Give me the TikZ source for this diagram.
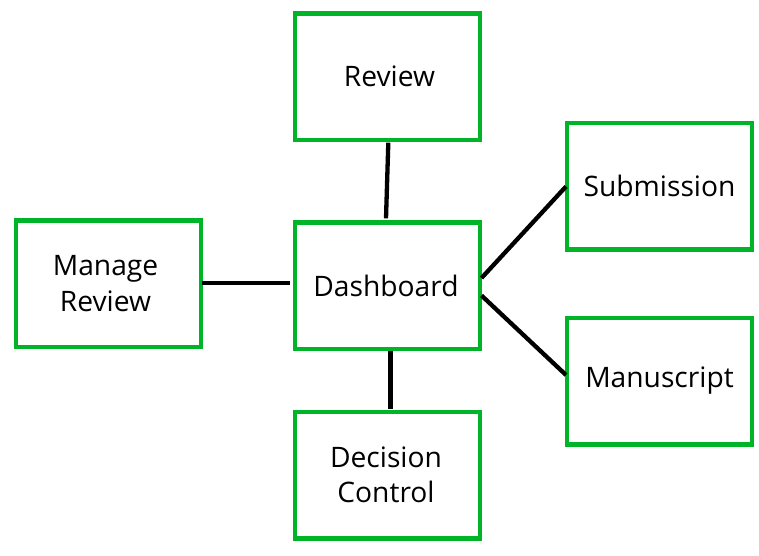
\documentclass[tikz,border=0pt]{standalone}
\usepackage{fontspec}
\setmainfont{Open Sans}
\definecolor{boxgreen}{RGB}{0,180,40}
\tikzset{
  box/.style={draw=boxgreen, line width=4.5pt, fill=white, minimum width=185pt, minimum height=126.5pt, inner sep=0pt, align=center, font=\fontsize{28.2}{35.5}\selectfont},
  link/.style={line width=4.3pt, black}
}
\begin{document}
\begin{tikzpicture}[x=1pt,y=-1pt]
\useasboundingbox (0,0) rectangle (759,555);
\fill[white] (0,0) rectangle (759,555);
\node[box] (review) at (387.5,76.5) {\hspace*{4pt}Review};
\node[box] (dash) at (387.5,285.5) {Dashboard\hspace*{3pt}};
\node[box] (manage) at (108.5,283.5) {Manage\hspace*{6pt}\\Review\hspace*{6pt}};
\node[box] (decision) at (387.5,475) {Decision\hspace*{3pt}\\Control\hspace*{3pt}};
\node[box] (sub) at (659.5,186) {Submission};
\node[box] (manu) at (659.5,381) {Manuscript};
\coordinate (a1) at (388.3,142.7);
\coordinate (a2) at (386,218.3);
\draw[link] (a1) -- (a2);
\coordinate (b1) at (201.7,283.3);
\coordinate (b2) at (290,283.3);
\draw[link] (b1) -- (b2);
\coordinate (c1) at (390.5,351);
\coordinate (c2) at (390.5,409);
\draw[link] (c1) -- (c2);
\coordinate (d1) at (481.5,278);
\coordinate (d2) at (566,186.5);
\draw[link] (d1) -- (d2);
\coordinate (e1) at (481.5,295.5);
\coordinate (e2) at (566,375);
\draw[link] (e1) -- (e2);
\end{tikzpicture}
\end{document}
